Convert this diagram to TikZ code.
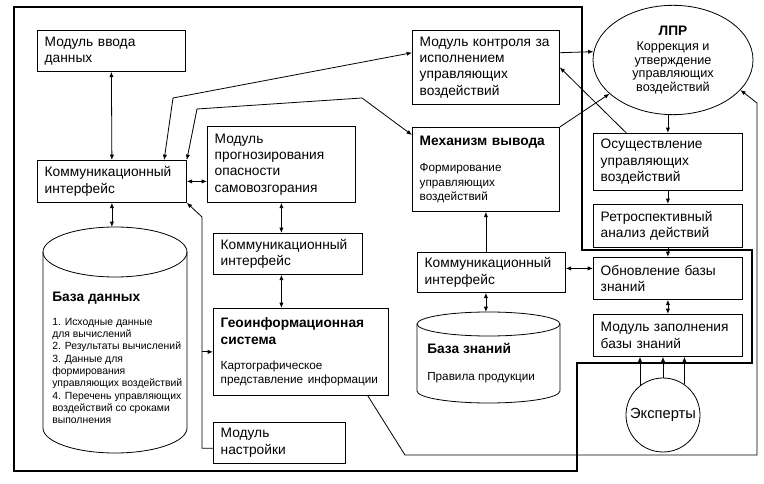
\documentclass[tikz,border=0pt]{standalone}
\usepackage{fontspec}
\setmainfont{Liberation Sans}
\usetikzlibrary{arrows.meta,shapes.geometric}

\newcommand{\fmain}{\fontsize{10.3}{12.3}\selectfont}
\newcommand{\fbold}{\fontsize{10.3}{12.3}\selectfont\bfseries}
\newcommand{\fsmall}{\fontsize{8.8}{10.6}\selectfont}
\newcommand{\ftiny}{\fontsize{7.8}{9.2}\selectfont}
\newcommand{\flpr}{\fontsize{9.5}{10.2}\selectfont}

\begin{document}
\begin{tikzpicture}[
        x=0.75pt, y=-0.75pt,
        % Define styles
        box/.style={draw, line width=0.6pt, anchor=north west, align=left,
            inner xsep=5.5pt, inner ysep=0pt, font=\fmain},
        oval/.style={draw, line width=0.6pt, ellipse, inner sep=0pt, align=center},
        link/.style={line width=0.6pt},
        arr/.style={link, -{Latex[length=4pt,width=3.2pt]}},
        dbl/.style={link, {Latex[length=4pt,width=3.2pt]}-{Latex[length=4pt,width=3.2pt]}},
        frame/.style={line width=2pt, line join=miter}
    ]
        \useasboundingbox (0,0) rectangle (764,484);

        % --- Thick frame ---
        \draw[frame] (14,7) -- (582,7) -- (582,250) -- (752,250) -- (752,363)
            -- (577,363) -- (577,471) -- (14,471) -- cycle;

        % --- Left column ---
        \node[box, text width=100pt, minimum height=30.75pt] (vvod) at (37,30) {Модуль ввода\\данных};
        \node[box, text width=100.75pt, minimum height=31.5pt] (komleft) at (37,160) {Коммуникационный\\интерфейс};

        % Database cylinder
        \draw[link] (43,252) -- (43,428) arc[start angle=180, end angle=360, x radius=54pt, y radius=18.75pt] -- (187,252);
        \draw[link] (115,252) ellipse [x radius=54pt, y radius=18.75pt];
        \coordinate (bdtop) at (115,227);
        \node[anchor=north west, inner sep=0pt, font=\fbold] (bd) at (52,292) {База данных};
        \node[anchor=north west, inner sep=0pt, align=left, font=\ftiny] (bdlist) at (52,318)
            {1. Исходные данные\\для вычислений\\2. Результаты вычислений\\3. Данные для\\формирования\\управляющих воздействий\\4. Перечень управляющих\\воздействий со сроками\\выполнения};

        % --- Middle column ---
        \node[box, text width=100pt, minimum height=57pt] (prognoz) at (207,126) {Модуль\\прогнозирования\\опасности\\самовозгорания};
        \node[box, text width=100.75pt, minimum height=30.75pt] (kommid) at (213,233) {Коммуникационный\\интерфейс};
        \node[box, text width=120.25pt, minimum height=65.25pt] (geo) at (213,308)
            {{\fbold Геоинформационная\\система\par}\vspace{8pt}{\fsmall Картографическое\\представление информации\par}};
        \node[box, text width=88pt, minimum height=30.75pt] (nastr) at (213,422) {Модуль\\настройки};

        % --- Inference column ---
        \node[box, text width=99.25pt, minimum height=55.5pt] (kontrol) at (412,30) {Модуль контроля за\\исполнением\\управляющих\\воздействий};
        \node[box, text width=99.25pt, minimum height=63pt] (mehan) at (412,127)
            {{\fbold Механизм вывода\par}\vspace{9pt}{\fsmall Формирование\\управляющих\\воздействий\par}};
        \node[box, text width=100pt, minimum height=30pt] (komright) at (417,252) {Коммуникационный\\интерфейс};

        % Knowledge base cylinder
        \draw[link] (417,324) -- (417,391) arc[start angle=180, end angle=360, x radius=53.6pt, y radius=9pt] -- (560,324);
        \draw[link] (488.5,324) ellipse [x radius=53.6pt, y radius=9pt];
        \coordinate (bztop) at (486,312);
        \node[anchor=north west, inner sep=0pt, font=\fbold] (bz) at (427,343) {База знаний};
        \node[anchor=north west, inner sep=0pt, font=\fsmall] (bzrules) at (427,372) {Правила продукции};

        % --- Right column ---
        \node[oval, minimum width=120pt, minimum height=82pt, font=\flpr] (lpr) at (673,60)
            {{\fbold ЛПР}\\[1pt]Коррекция и\\утверждение\\управляющих\\воздействий};
        \node[box, text width=100.75pt, minimum height=42.75pt] (osush) at (593,133) {Осуществление\\управляющих\\воздействий};
        \node[box, text width=100.75pt, minimum height=32.25pt] (retro) at (593,204) {Ретроспективный\\анализ действий};
        \node[box, text width=100.75pt, minimum height=31.5pt] (obnov) at (593,257) {Обновление базы\\знаний};
        \node[box, text width=100.75pt, minimum height=31.5pt] (zapoln) at (593,314) {Модуль заполнения\\базы знаний};
        \node[draw, circle, line width=0.6pt, minimum size=55.5pt, inner sep=0pt,
            font=\fontsize{11}{13}\selectfont] (eksp) at (663,415) {Эксперты};

        % --- Draw Edges ---
        % Left column connections
        \draw[dbl] (vvod.south) -- (komleft.north);
        \draw[dbl] (komleft.east) -- (komleft.east -| prognoz.west);
        \draw[dbl] (komleft.south) -- (komleft.south |- bdtop);
        \coordinate (nbend) at (202,217);
        \draw[arr] ([yshift=-4pt]nastr.west) -| (nbend) -- (komleft.south east);
        \draw[arr] (nbend |- geo.west) -- (geo.west);

        % Middle column connections
        \draw[dbl] (prognoz.south) -- (prognoz.south |- kommid.north);
        \draw[dbl] (kommid.south -| prognoz.south) -- (geo.north -| prognoz.south);

        % Long links from the left interface
        \coordinate (abend) at (173,98);
        \draw[dbl] ([yshift=11pt]kontrol.west) -- (abend) -- ([xshift=-17pt]komleft.north east);
        \coordinate (bbend1) at (197,109);
        \coordinate (bbend2) at (362,98);
        \draw[dbl] (komleft.north east) -- (bbend1) -- (bbend2) -- ([yshift=-6pt]mehan.north west);

        % Right side connections
        \draw[arr] ([yshift=11pt]kontrol.east) -- (lpr.174);
        \draw[arr] (mehan.north east) -- (lpr.208);
        \draw[arr] ([xshift=25pt]osush.north west) -- (kontrol.east);
        \draw[arr] (osush.north |- lpr.south) -- (osush.north);
        \draw[arr] (osush.south) -- (retro.north);
        \draw[arr] (retro.south) -- (obnov.north);
        \draw[dbl] (obnov.south) -- (zapoln.north);
        \draw[dbl] ([yshift=3pt]komright.east) -- ([yshift=3pt]komright.east -| obnov.west);
        \draw[arr] (komright.north -| mehan.south) -- (mehan.south);
        \draw[dbl] (komright.south -| mehan.south) -- (bztop -| mehan.south);

        % Experts
        \foreach \a in {128, 90, 55}
            \draw[arr] (eksp.\a) -- (eksp.\a |- zapoln.south);

        % Feedback from the GIS
        \coordinate (gbend1) at (405,455);
        \coordinate (gbend2) at (757,455);
        \coordinate (gbend3) at (757,103);
        \draw[arr] ([xshift=-15.75pt]geo.south east) -- (gbend1) -- (gbend2) -- (gbend3) -- (lpr.336);

    \end{tikzpicture}
\end{document}
